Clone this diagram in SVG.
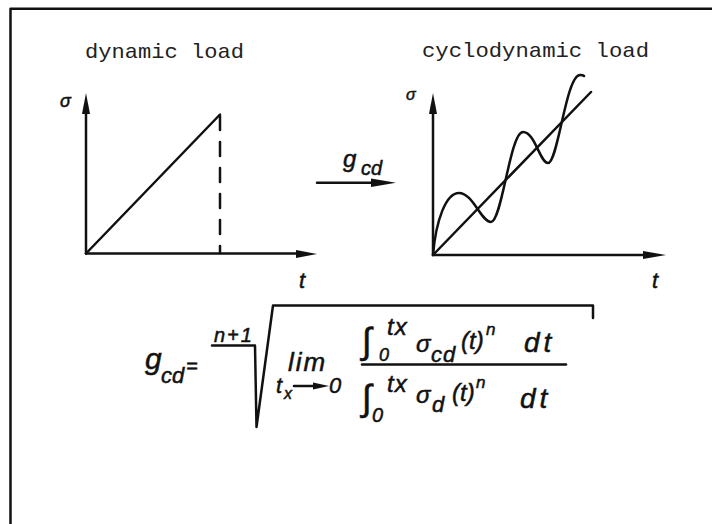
<svg xmlns="http://www.w3.org/2000/svg" width="712" height="524" viewBox="0 0 712 524">
<style>
.ln{fill:none;stroke:#111;stroke-width:2.5;stroke-linecap:round;stroke-linejoin:round}
.ah{fill:#111;stroke:none}
.mono{font-family:"Liberation Mono","Courier New",monospace;fill:#222}
.it{font-family:"Liberation Sans",Arial,sans-serif;font-style:italic;fill:#111;stroke:#111;stroke-width:0.5}
</style>
<rect width="712" height="524" fill="#fff"/>
<g id="frame"><path class="ln" d="M10.5,524 V8.7 H712" stroke-width="2.5"/></g>

<g id="title-dynamic"><text class="mono" x="85" y="58" font-size="21" textLength="159" lengthAdjust="spacingAndGlyphs">dynamic load</text></g>
<g id="title-cyclo"><text class="mono" x="422" y="57" font-size="21" textLength="227" lengthAdjust="spacingAndGlyphs">cyclodynamic load</text></g>

<g id="graph-dynamic">
<path class="ln" d="M86,253.5 V110"/>
<polygon class="ah" points="86,93 82,114 90,114"/>
<path class="ln" d="M86,253.5 H298"/>
<polygon class="ah" points="317,254 296,250 296,258"/>
<path class="ln" d="M86,253.5 L220,114.5"/>
<path class="ln" d="M220,116 V253" stroke-dasharray="14 12" stroke-linecap="butt"/>
<text class="it" x="60" y="106.5" font-size="18" font-style="normal">σ</text>
<text class="it" x="299" y="288" font-size="22">t</text>
</g>

<g id="graph-cyclodynamic">
<path class="ln" d="M433,255 V111"/>
<polygon class="ah" points="433,93 429,114 437,114"/>
<path class="ln" d="M433,255 H645"/>
<polygon class="ah" points="666,255 643,251 643,259"/>
<path class="ln" d="M433,255 L591,92"/>
<path class="ln" d="M433,255 C436,220 446,193 459,193 C473,193 481,222 491,222 C502,222 510,132 523,132 C535,132 540,163 548,163 C558,163 566,75 580,75 C582,75 583,75 584,76"/>
<text class="it" x="406" y="100" font-size="16" font-style="normal">σ</text>
<text class="it" x="652" y="288" font-size="22">t</text>
</g>

<g id="connectors">
<path class="ln" d="M317,182.7 H374"/>
<polygon class="ah" points="396,182.7 371,178.5 371,187"/>
</g>
<g id="gcd-label">
<text class="it" x="343" y="167" font-size="24">g</text>
<text class="it" x="361" y="175" font-size="20">cd</text>
</g>

<g id="formula">
<text class="it" x="145" y="368.5" font-size="30">g</text>
<text class="it" x="161" y="383" font-size="22">cd</text>
<text class="it" x="186" y="373" font-size="20" font-style="normal">=</text>
<text class="it" x="214" y="341.5" font-size="20" letter-spacing="2">n+1</text>
<path class="ln" d="M212,345.5 H255 L256.5,427 L273,305.5 H593 V318"/>
<text class="it" x="288" y="371" font-size="26" letter-spacing="2">lim</text>
<text class="it" x="276" y="393" font-size="22">t</text>
<text class="it" x="284" y="398.5" font-size="16">x</text>
<path class="ln" d="M294,386 H315"/>
<polygon class="ah" points="329,386 313,382.5 313,389.5"/>
<text class="it" x="329" y="393" font-size="22">0</text>
<path class="ln" d="M362,364.5 H566" stroke-width="2.2"/>
<text class="it" x="362" y="353" font-size="36" font-style="normal">∫</text>
<text class="it" x="387" y="335" font-size="24" letter-spacing="1">tx</text>
<text class="it" x="379" y="360.5" font-size="18">0</text>
<text class="it" x="416" y="352" font-size="24">σ</text>
<text class="it" x="431" y="362" font-size="22" letter-spacing="1">cd</text>
<text class="it" x="461" y="349" font-size="24">(t)</text>
<text class="it" x="486" y="335" font-size="17">n</text>
<text class="it" x="524" y="352" font-size="28" letter-spacing="4">dt</text>
<text class="it" x="362" y="410" font-size="36" font-style="normal">∫</text>
<text class="it" x="387" y="392" font-size="24" letter-spacing="1">tx</text>
<text class="it" x="372" y="422" font-size="20">0</text>
<text class="it" x="416" y="403" font-size="24">σ</text>
<text class="it" x="432" y="412" font-size="22">d</text>
<text class="it" x="452" y="401" font-size="24">(t)</text>
<text class="it" x="476" y="388" font-size="17">n</text>
<text class="it" x="520" y="408" font-size="28" letter-spacing="4">dt</text>
</g>
</svg>
